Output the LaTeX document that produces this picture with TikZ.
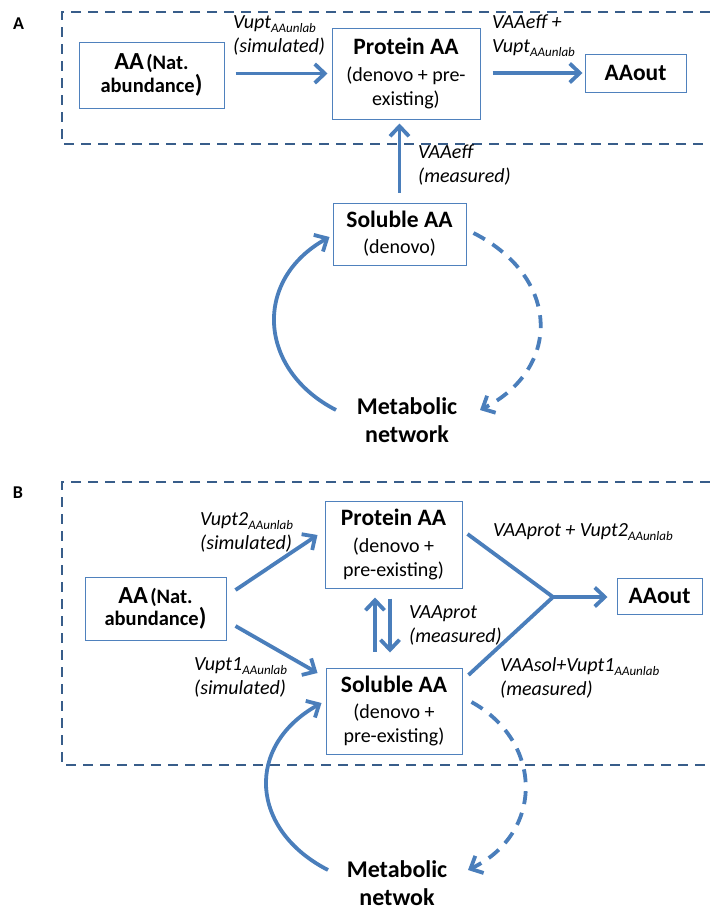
\documentclass[tikz,border=0pt]{standalone}
\usepackage{fontspec}
\setmainfont{Carlito}
\usetikzlibrary{arrows.meta}
\definecolor{arrblue}{RGB}{74,126,187}
\definecolor{boxblue}{RGB}{79,129,189}
\definecolor{dashblue}{RGB}{56,93,138}
\newcommand\sublab[1]{\raisebox{-4pt}{\fontsize{13}{13}\selectfont\itshape #1}}
\newcommand\boxtitle[1]{{\fontsize{23.5}{27}\selectfont\bfseries #1}}
\newcommand\aatext{{\fontsize{24.5}{28}\selectfont AA} {\fontsize{20.5}{28}\selectfont (Nat.}\\{\fontsize{20.5}{28}\selectfont abundance}{\fontsize{24.5}{28}\selectfont )}}
\begin{document}
\begin{tikzpicture}[x=1pt,y=-1pt,
  box/.style={draw=boxblue, line width=1pt, inner sep=0pt, align=center, fill=white, font=\fontsize{20}{24}\selectfont},
  aabox/.style={box, font=\bfseries},
  arr/.style={draw=arrblue, line width=3.8pt, -{Straight Barb[length=10pt,width=19pt]}},
  darr/.style={arr, dash pattern=on 13pt off 9pt},
  flow/.style={draw=arrblue, line width=3.8pt},
  dashbox/.style={draw=dashblue, line width=2.5pt, dash pattern=on 10pt off 7pt},
  lab/.style={font=\fontsize{20}{24}\selectfont\itshape, align=left, inner sep=0pt, anchor=west},
  mettext/.style={font=\fontsize{24}{28}\selectfont\bfseries, align=center, inner sep=0pt},
  panlab/.style={font=\fontsize{18}{18}\selectfont\bfseries, inner sep=0pt}]
\useasboundingbox (0,0) rectangle (710,911);
% ---------------- Panel A
\node[panlab] (labA) at (18.5,23.5) {A};
\draw[dashbox] (710,12) -- (62,12) -- (62,144) -- (710,144);
\node[aabox, minimum width=145, minimum height=66] (aaA) at (151.5,75) {\aatext};
\node[box, minimum width=148, minimum height=91] (protA) at (406,73.5) {\boxtitle{Protein AA}\\[3pt](denovo + pre-\\existing)};
\node[box, minimum width=101, minimum height=38] (outA) at (635.5,73) {\boxtitle{AAout}};
\node[box, minimum width=133, minimum height=62] (solA) at (399.5,234) {\boxtitle{Soluble AA}\\[2pt](denovo)};
\node[mettext] (metA) at (407,420) {Metabolic\\network};
\coordinate (cA1) at (336,410);
\coordinate (dA2) at (480,410);
\draw[arr, shorten <=11pt, shorten >=4pt] (aaA.east |- protA.west) -- (protA.west);
\draw[arr, shorten <=12pt, shorten >=2pt] (protA.east |- outA.west) -- (outA.west);
\draw[arr, shorten <=10pt, shorten >=4pt] (solA.north) -- (solA.north |- protA.south);
\node[lab] (lA1) at (233,35.5) {Vupt\sublab{AAunlab}\\(simulated)};
\node[lab] (lA2) at (492,36) {VAAeff +\\Vupt\sublab{AAunlab}};
\node[lab] (lA3) at (418,165) {VAAeff\\(measured)};
\draw[arr] (cA1) .. controls +(-78,-40) and +(-77,43) .. ([shift={(-3,3)}]solA.west);
\draw[darr] ([shift={(7,-1)}]solA.east) .. controls +(88,45) and +(81,-41) .. (dA2);
% ---------------- Panel B
\node[panlab] (labB) at (18,492.5) {B};
\draw[dashbox] (710,482) -- (62,482) -- (62,765) -- (710,765);
\node[box, minimum width=137, minimum height=87] (protB) at (393.5,544.5) {\boxtitle{Protein AA}\\[3pt](denovo +\\pre-existing)};
\node[aabox, minimum width=141, minimum height=63] (aaB) at (155.5,608.5) {\aatext};
\node[box, minimum width=136, minimum height=86] (solB) at (394,711) {\boxtitle{Soluble AA}\\[2pt](denovo +\\pre-existing)};
\node[box, minimum width=85, minimum height=36] (outB) at (659.5,596) {\boxtitle{AAout}};
\node[mettext] (metB) at (397,883) {Metabolic\\netwok};
\coordinate (jn) at (553,597);
\coordinate (cB1) at (328,870);
\coordinate (dB2) at (468,870);
\draw[arr] ([shift={(9,-18.5)}]aaB.east) -- ([shift={(-7,-9.5)}]protB.west);
\draw[arr] ([shift={(9,17.5)}]aaB.east) -- ([shift={(-8,-38)}]solB.west);
\draw[arr] ([shift={(-19,-16)}]solB.north) -- ([shift={(-18.5,9)}]protB.south);
\draw[arr] ([shift={(-3.5,10)}]protB.south) -- ([shift={(-4,-15)}]solB.north);
\draw[flow] ([shift={(5,-10.5)}]protB.east) -- (jn);
\draw[flow] ([shift={(6,-36)}]solB.east) -- (jn);
\draw[arr, shorten >=9pt] (jn) -- (jn -| outB.west);
\node[lab] (lB1) at (200,532) {Vupt2\sublab{AAunlab}\\(simulated)};
\node[lab] (lB2) at (194,677) {Vupt1\sublab{AAunlab}\\(simulated)};
\node[lab] (lB3) at (409,625) {VAAprot\\(measured)};
\node[lab] (lB4) at (493,532) {VAAprot + Vupt2\sublab{AAunlab}};
\node[lab] (lB5) at (500,678) {VAAsol+Vupt1\sublab{AAunlab}\\(measured)};
\draw[arr] (cB1) .. controls +(-78,-40) and +(-77,43) .. ([shift={(-4,-8)}]solB.west);
\draw[darr] ([shift={(9,-9)}]solB.east) .. controls +(72,40) and +(76,-37) .. (dB2);
\end{tikzpicture}
\end{document}
